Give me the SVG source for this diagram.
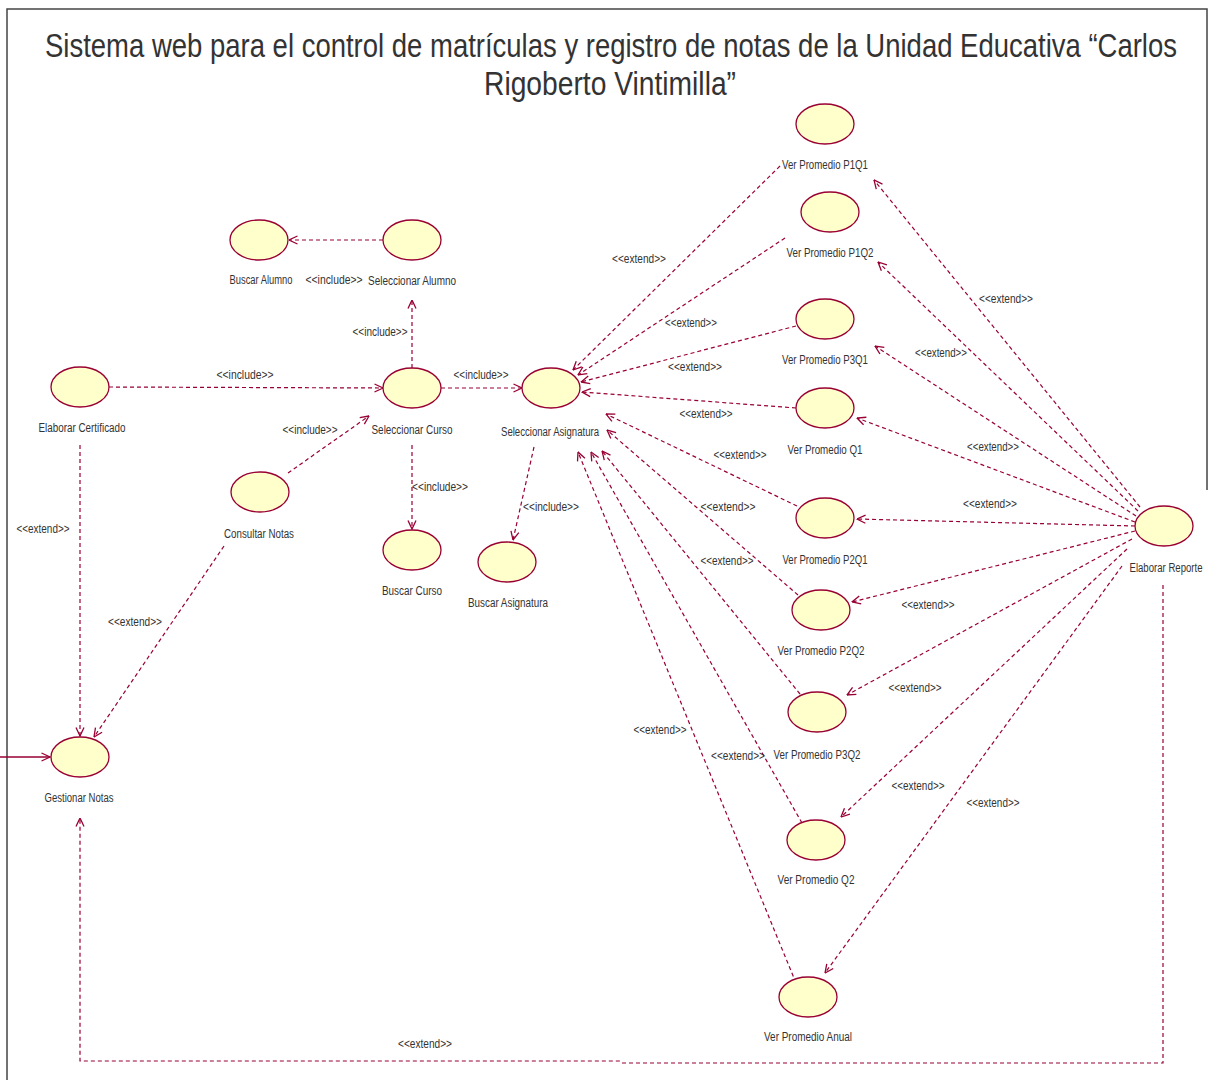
<svg xmlns="http://www.w3.org/2000/svg" width="1209" height="1080" viewBox="0 0 1209 1080">
<style>
.uc ellipse{fill:#FFFFCC;stroke:#990033;stroke-width:1.3}
.lbl{font-family:"Liberation Sans",Arial,sans-serif;font-size:12px;fill:#333;text-anchor:middle}
.title{font-family:"Liberation Sans",Arial,sans-serif;font-size:34px;fill:#333}
.dep{fill:none;stroke:#990033;stroke-width:1.2;stroke-dasharray:4 3;marker-end:url(#open)}
</style>
<defs>
<marker id="open" viewBox="0 0 10 10" refX="9.5" refY="5" markerWidth="10" markerHeight="10" markerUnits="userSpaceOnUse" orient="auto">
<path d="M1,1 L9.5,5 L1,9" fill="none" stroke="#990033" stroke-width="1.3"/>
</marker>
</defs>
<rect width="1209" height="1080" fill="#fff"/>
<path d="M7,1080 L7,9 L1207,9 L1207,490" fill="none" stroke="#444" stroke-width="1.5"/>
<text class="title" x="45" y="57" textLength="1132" lengthAdjust="spacingAndGlyphs">Sistema web para el control de matrículas y registro de notas de la Unidad Educativa “Carlos</text>
<text class="title" x="484" y="95" textLength="252" lengthAdjust="spacingAndGlyphs">Rigoberto Vintimilla”</text>

<g id="connectors">
<line class="dep" x1="383" y1="240" x2="289" y2="240"/>
<line class="dep" x1="412" y1="368" x2="412" y2="300"/>
<line class="dep" x1="109" y1="387" x2="383" y2="388"/>
<line class="dep" x1="288" y1="473" x2="369" y2="416"/>
<line class="dep" x1="441" y1="388" x2="522" y2="388"/>
<line class="dep" x1="412" y1="445" x2="412" y2="529"/>
<line class="dep" x1="534" y1="447" x2="513" y2="540"/>
<line class="dep" x1="80" y1="445" x2="80" y2="736"/>
<line class="dep" x1="224" y1="546" x2="94" y2="737"/>
<polyline class="dep" points="1163,585 1163,1063 622,1063 620,1061 80,1061 80,818"/>
<line x1="0" y1="757" x2="50" y2="757" stroke="#990033" stroke-width="1.4" marker-end="url(#open)"/>
<line class="dep" x1="780" y1="166" x2="573" y2="370"/>
<line class="dep" x1="785" y1="238" x2="578" y2="375"/>
<line class="dep" x1="796" y1="326" x2="581" y2="382"/>
<line class="dep" x1="796" y1="408" x2="582" y2="392"/>
<line class="dep" x1="797" y1="506" x2="606" y2="414"/>
<line class="dep" x1="798" y1="595" x2="607" y2="430"/>
<line class="dep" x1="800" y1="694" x2="602" y2="451"/>
<line class="dep" x1="802" y1="823" x2="591" y2="452"/>
<line class="dep" x1="796" y1="983" x2="578" y2="452"/>
<line class="dep" x1="1140" y1="507" x2="874" y2="180"/>
<line class="dep" x1="1138" y1="511" x2="878" y2="262"/>
<line class="dep" x1="1136" y1="516" x2="875" y2="346"/>
<line class="dep" x1="1135" y1="522" x2="857" y2="418"/>
<line class="dep" x1="1135" y1="526" x2="857" y2="519"/>
<line class="dep" x1="1135" y1="531" x2="852" y2="602"/>
<line class="dep" x1="1132" y1="539" x2="847" y2="695"/>
<line class="dep" x1="1127" y1="549" x2="841" y2="817"/>
<line class="dep" x1="1122" y1="566" x2="825" y2="973"/>
<text class="lbl" x="334" y="284" textLength="57" lengthAdjust="spacingAndGlyphs">&lt;&lt;include&gt;&gt;</text>
<text class="lbl" x="380" y="336" textLength="55" lengthAdjust="spacingAndGlyphs">&lt;&lt;include&gt;&gt;</text>
<text class="lbl" x="245" y="379" textLength="57" lengthAdjust="spacingAndGlyphs">&lt;&lt;include&gt;&gt;</text>
<text class="lbl" x="481" y="379" textLength="55" lengthAdjust="spacingAndGlyphs">&lt;&lt;include&gt;&gt;</text>
<text class="lbl" x="310" y="434" textLength="55" lengthAdjust="spacingAndGlyphs">&lt;&lt;include&gt;&gt;</text>
<text class="lbl" x="440" y="491" textLength="56" lengthAdjust="spacingAndGlyphs">&lt;&lt;include&gt;&gt;</text>
<text class="lbl" x="551" y="511" textLength="56" lengthAdjust="spacingAndGlyphs">&lt;&lt;include&gt;&gt;</text>
<text class="lbl" x="43" y="533" textLength="53" lengthAdjust="spacingAndGlyphs">&lt;&lt;extend&gt;&gt;</text>
<text class="lbl" x="135" y="626" textLength="54" lengthAdjust="spacingAndGlyphs">&lt;&lt;extend&gt;&gt;</text>
<text class="lbl" x="639" y="263" textLength="54" lengthAdjust="spacingAndGlyphs">&lt;&lt;extend&gt;&gt;</text>
<text class="lbl" x="691" y="327" textLength="52" lengthAdjust="spacingAndGlyphs">&lt;&lt;extend&gt;&gt;</text>
<text class="lbl" x="695" y="371" textLength="54" lengthAdjust="spacingAndGlyphs">&lt;&lt;extend&gt;&gt;</text>
<text class="lbl" x="706" y="418" textLength="53" lengthAdjust="spacingAndGlyphs">&lt;&lt;extend&gt;&gt;</text>
<text class="lbl" x="740" y="459" textLength="53" lengthAdjust="spacingAndGlyphs">&lt;&lt;extend&gt;&gt;</text>
<text class="lbl" x="728" y="511" textLength="55" lengthAdjust="spacingAndGlyphs">&lt;&lt;extend&gt;&gt;</text>
<text class="lbl" x="727" y="565" textLength="53" lengthAdjust="spacingAndGlyphs">&lt;&lt;extend&gt;&gt;</text>
<text class="lbl" x="660" y="734" textLength="53" lengthAdjust="spacingAndGlyphs">&lt;&lt;extend&gt;&gt;</text>
<text class="lbl" x="738" y="760" textLength="54" lengthAdjust="spacingAndGlyphs">&lt;&lt;extend&gt;&gt;</text>
<text class="lbl" x="1006" y="303" textLength="54" lengthAdjust="spacingAndGlyphs">&lt;&lt;extend&gt;&gt;</text>
<text class="lbl" x="941" y="357" textLength="52" lengthAdjust="spacingAndGlyphs">&lt;&lt;extend&gt;&gt;</text>
<text class="lbl" x="993" y="451" textLength="52" lengthAdjust="spacingAndGlyphs">&lt;&lt;extend&gt;&gt;</text>
<text class="lbl" x="990" y="508" textLength="54" lengthAdjust="spacingAndGlyphs">&lt;&lt;extend&gt;&gt;</text>
<text class="lbl" x="928" y="609" textLength="53" lengthAdjust="spacingAndGlyphs">&lt;&lt;extend&gt;&gt;</text>
<text class="lbl" x="915" y="692" textLength="53" lengthAdjust="spacingAndGlyphs">&lt;&lt;extend&gt;&gt;</text>
<text class="lbl" x="918" y="790" textLength="53" lengthAdjust="spacingAndGlyphs">&lt;&lt;extend&gt;&gt;</text>
<text class="lbl" x="993" y="807" textLength="53" lengthAdjust="spacingAndGlyphs">&lt;&lt;extend&gt;&gt;</text>
<text class="lbl" x="425" y="1048" textLength="54" lengthAdjust="spacingAndGlyphs">&lt;&lt;extend&gt;&gt;</text>
</g>

<g id="buscar-alumno" class="uc"><ellipse cx="259" cy="240" rx="29" ry="20"/><text class="lbl" x="261" y="284" textLength="63" lengthAdjust="spacingAndGlyphs">Buscar Alumno</text></g>
<g id="seleccionar-alumno" class="uc"><ellipse cx="412" cy="240" rx="29" ry="20"/><text class="lbl" x="412" y="285" textLength="88" lengthAdjust="spacingAndGlyphs">Seleccionar Alumno</text></g>
<g id="seleccionar-curso" class="uc"><ellipse cx="412" cy="388" rx="29" ry="20"/><text class="lbl" x="412" y="434" textLength="81" lengthAdjust="spacingAndGlyphs">Seleccionar Curso</text></g>
<g id="seleccionar-asignatura" class="uc"><ellipse cx="551" cy="388" rx="29" ry="20"/><text class="lbl" x="550" y="436" textLength="98" lengthAdjust="spacingAndGlyphs">Seleccionar Asignatura</text></g>
<g id="elaborar-certificado" class="uc"><ellipse cx="80" cy="387" rx="29" ry="20"/><text class="lbl" x="82" y="432" textLength="87" lengthAdjust="spacingAndGlyphs">Elaborar Certificado</text></g>
<g id="consultar-notas" class="uc"><ellipse cx="260" cy="492" rx="29" ry="20"/><text class="lbl" x="259" y="538" textLength="70" lengthAdjust="spacingAndGlyphs">Consultar Notas</text></g>
<g id="gestionar-notas" class="uc"><ellipse cx="80" cy="757" rx="29" ry="20"/><text class="lbl" x="79" y="802" textLength="69" lengthAdjust="spacingAndGlyphs">Gestionar Notas</text></g>
<g id="buscar-curso" class="uc"><ellipse cx="412" cy="550" rx="29" ry="20"/><text class="lbl" x="412" y="595" textLength="60" lengthAdjust="spacingAndGlyphs">Buscar Curso</text></g>
<g id="buscar-asignatura" class="uc"><ellipse cx="507" cy="562" rx="29" ry="20"/><text class="lbl" x="508" y="607" textLength="80" lengthAdjust="spacingAndGlyphs">Buscar Asignatura</text></g>
<g id="ver-promedio-p1q1" class="uc"><ellipse cx="825" cy="124" rx="29" ry="20"/><text class="lbl" x="825" y="169" textLength="86" lengthAdjust="spacingAndGlyphs">Ver Promedio P1Q1</text></g>
<g id="ver-promedio-p1q2" class="uc"><ellipse cx="830" cy="212" rx="29" ry="20"/><text class="lbl" x="830" y="257" textLength="87" lengthAdjust="spacingAndGlyphs">Ver Promedio P1Q2</text></g>
<g id="ver-promedio-p3q1" class="uc"><ellipse cx="825" cy="319" rx="29" ry="20"/><text class="lbl" x="825" y="364" textLength="86" lengthAdjust="spacingAndGlyphs">Ver Promedio P3Q1</text></g>
<g id="ver-promedio-q1" class="uc"><ellipse cx="825" cy="408" rx="29" ry="20"/><text class="lbl" x="825" y="454" textLength="75" lengthAdjust="spacingAndGlyphs">Ver Promedio Q1</text></g>
<g id="ver-promedio-p2q1" class="uc"><ellipse cx="825" cy="518" rx="29" ry="20"/><text class="lbl" x="825" y="564" textLength="85" lengthAdjust="spacingAndGlyphs">Ver Promedio P2Q1</text></g>
<g id="ver-promedio-p2q2" class="uc"><ellipse cx="821" cy="610" rx="29" ry="20"/><text class="lbl" x="821" y="655" textLength="87" lengthAdjust="spacingAndGlyphs">Ver Promedio P2Q2</text></g>
<g id="ver-promedio-p3q2" class="uc"><ellipse cx="817" cy="712" rx="29" ry="20"/><text class="lbl" x="817" y="759" textLength="87" lengthAdjust="spacingAndGlyphs">Ver Promedio P3Q2</text></g>
<g id="ver-promedio-q2" class="uc"><ellipse cx="816" cy="840" rx="29" ry="20"/><text class="lbl" x="816" y="884" textLength="77" lengthAdjust="spacingAndGlyphs">Ver Promedio Q2</text></g>
<g id="ver-promedio-anual" class="uc"><ellipse cx="808" cy="997" rx="29" ry="20"/><text class="lbl" x="808" y="1041" textLength="88" lengthAdjust="spacingAndGlyphs">Ver Promedio Anual</text></g>
<g id="elaborar-reporte" class="uc"><ellipse cx="1164" cy="526" rx="29" ry="20"/><text class="lbl" x="1166" y="572" textLength="73" lengthAdjust="spacingAndGlyphs">Elaborar Reporte</text></g>
</svg>
